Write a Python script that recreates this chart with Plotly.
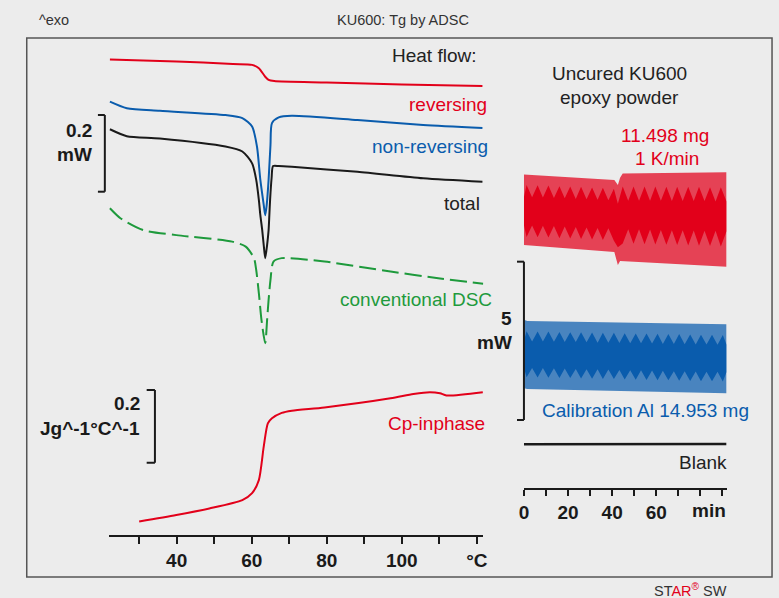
import plotly.graph_objects as go

W, H = 779, 598
FONT = "Liberation Sans, Arial, sans-serif"
RED = "#e2001a"
BLUE = "#0a5cad"
GREEN = "#1e9a3c"
BLACK = "#1a1a1a"
BG = "#ececec"

# ---------------- data: left panel (temperature, degC) ----------------
rev_T = [22.2, 40.0, 55.0, 60.1, 61.9, 63.6, 64.5, 66.0, 80.0, 100.0, 121.5]
rev_hf = [1.240, 1.235, 1.228, 1.226, 1.217, 1.195, 1.187, 1.184, 1.180, 1.175, 1.171]

nrev_T = [22.2, 26.7, 35.5, 53.0, 57.5, 60.1, 61.4, 62.3, 63.2, 63.6, 64.0, 64.5, 65.0, 65.4, 67.2, 70.7, 88.2, 105.7, 121.5]
nrev_hf = [1.130, 1.113, 1.106, 1.095, 1.087, 1.065, 1.013, 0.926, 0.861, 0.834, 0.861, 0.926, 1.017, 1.074, 1.089, 1.093, 1.082, 1.069, 1.061]

tot_T = [22.2, 26.7, 35.5, 53.0, 57.5, 60.1, 61.2, 61.9, 62.3, 62.8, 63.2, 63.6, 64.1, 64.5, 64.7, 64.9, 65.3, 65.7, 67.2, 70.7, 88.2, 105.7, 121.5]
tot_hf = [1.058, 1.040, 1.034, 1.013, 1.000, 0.969, 0.926, 0.874, 0.834, 0.795, 0.756, 0.722, 0.756, 0.795, 0.834, 0.874, 0.931, 0.962, 0.962, 0.960, 0.947, 0.930, 0.921]

dsc_T = [22.2, 25.0, 31.1, 39.9, 54.8, 58.4, 60.6, 61.2, 61.9, 62.6, 63.6, 64.1, 64.5, 65.0, 65.8, 68.0, 79.4, 97.0, 110.2, 121.7]
dsc_hf = [0.852, 0.826, 0.795, 0.782, 0.765, 0.752, 0.722, 0.691, 0.631, 0.561, 0.500, 0.561, 0.613, 0.665, 0.713, 0.722, 0.713, 0.687, 0.669, 0.655]

cp_T = [30.0, 39.9, 48.7, 57.5, 60.1, 61.9, 63.2, 64.3, 65.4, 68.0, 70.7, 79.4, 97.0, 103.1, 107.5, 110.2, 111.9, 121.6]
cp_val = [1.037, 1.055, 1.073, 1.096, 1.115, 1.151, 1.243, 1.307, 1.321, 1.336, 1.342, 1.351, 1.376, 1.388, 1.393, 1.390, 1.384, 1.393]

temp_ticks = [30, 40, 50, 60, 70, 80, 90, 100, 110, 120]
temp_labels = ["", "40", "", "60", "", "80", "", "100", "", "°C"]

# ---------------- data: right panel (time, min; heat flow, mW) ----------------
red_env_t = [0, 41.0, 42.6, 43.6, 44.8, 91.9]
red_env_top = [9.90, 9.73, 9.57, 9.80, 9.93, 9.97]
red_env_bot = [7.67, 7.45, 7.04, 7.17, 7.17, 6.99]

red_core_t = [0, 1.2, 3.7, 6.2, 8.6, 11.1, 13.6, 16.1, 18.5, 21.0, 23.5, 25.9, 28.4, 30.9, 33.4, 35.8, 38.3, 40.8, 42.6,
              44.8, 47.3, 49.7, 52.2, 54.7, 57.2, 59.6, 62.1, 64.6, 67.1, 69.5, 72.0, 74.5, 77.0, 79.4, 81.9, 84.4, 86.9, 89.3, 91.9]
red_core_top = [9.19, 9.57, 9.18, 9.56, 9.17, 9.55, 9.16, 9.53, 9.15, 9.52, 9.13, 9.51, 9.12, 9.49, 9.10, 9.48, 9.09, 9.45, 8.98,
                9.52, 9.07, 9.52, 9.07, 9.52, 9.07, 9.52, 9.07, 9.51, 9.06, 9.51, 9.06, 9.51, 9.06, 9.51, 9.06, 9.50, 9.05, 9.50, 9.05]
red_core_bot = [8.30, 7.93, 8.29, 7.92, 8.28, 7.91, 8.27, 7.89, 8.26, 7.88, 8.24, 7.86, 8.23, 7.85, 8.21, 7.83, 8.20, 7.81, 7.60,
                7.72, 8.17, 7.71, 8.17, 7.70, 8.16, 7.69, 8.15, 7.68, 8.14, 7.67, 8.14, 7.66, 8.13, 7.65, 8.12, 7.64, 8.12, 7.63, 8.11]

blue_env_t = [0, 1.5, 91.9]
blue_env_top = [5.31, 5.27, 5.17]
blue_env_bot = [3.15, 3.13, 2.99]

blue_core_t = [0, 1.2, 3.7, 6.2, 8.6, 11.1, 13.6, 16.1, 18.5, 21.0, 23.5, 25.9, 28.4, 30.9, 33.4, 35.8, 38.3, 40.8, 43.3,
               45.7, 48.2, 50.7, 53.1, 55.6, 58.1, 60.6, 63.0, 65.5, 68.0, 70.4, 72.9, 75.4, 77.9, 80.3, 82.8, 85.3, 87.8, 90.2, 91.9]
blue_core_top = [4.64, 4.95, 4.63, 4.94, 4.63, 4.94, 4.62, 4.93, 4.61, 4.92, 4.61, 4.92, 4.60, 4.91, 4.59, 4.90, 4.59, 4.90, 4.58,
                 4.89, 4.57, 4.88, 4.57, 4.88, 4.56, 4.87, 4.55, 4.86, 4.55, 4.86, 4.54, 4.85, 4.53, 4.84, 4.53, 4.84, 4.52, 4.83, 4.52]
blue_core_bot = [3.80, 3.50, 3.79, 3.49, 3.79, 3.48, 3.78, 3.47, 3.77, 3.47, 3.76, 3.46, 3.75, 3.45, 3.75, 3.44, 3.74, 3.44, 3.73,
                 3.43, 3.72, 3.42, 3.72, 3.41, 3.71, 3.40, 3.70, 3.40, 3.69, 3.39, 3.69, 3.38, 3.68, 3.37, 3.67, 3.37, 3.67, 3.36, 3.66]

blank_t = [0, 30, 60, 91.9]
blank_hf = [1.38, 1.38, 1.39, 1.39]

time_ticks = [0, 10, 20, 30, 40, 50, 60, 70, 80, 90]
time_labels = ["0", "", "20", "", "40", "", "60", "", "", ""]


def px(x):
    return x / W


def py(y):
    return 1 - y / H


def band(t, top, bot):
    return list(t) + list(t)[::-1], list(top) + list(bot)[::-1]


fig = go.Figure()

common = dict(mode="lines", hoverinfo="skip", showlegend=False)


def smooth(color, width=2, dash="solid"):
    return dict(color=color, width=width, dash=dash, shape="spline", smoothing=0.7)


fig.add_trace(go.Scatter(x=rev_T, y=rev_hf, line=smooth(RED), xaxis="x", yaxis="y", **common))
fig.add_trace(go.Scatter(x=nrev_T, y=nrev_hf, line=smooth(BLUE), xaxis="x", yaxis="y", **common))
fig.add_trace(go.Scatter(x=tot_T, y=tot_hf, line=smooth(BLACK), xaxis="x", yaxis="y", **common))
fig.add_trace(go.Scatter(x=dsc_T, y=dsc_hf, line=smooth(GREEN, 2, "17px,6px"), xaxis="x", yaxis="y", **common))
fig.add_trace(go.Scatter(x=cp_T, y=cp_val, line=smooth(RED), xaxis="x", yaxis="y2", **common))

bx, by = band(red_env_t, red_env_top, red_env_bot)
fig.add_trace(go.Scatter(x=bx, y=by, fill="toself", fillcolor="rgba(226,0,26,0.72)", line=dict(width=0),
                         xaxis="x2", yaxis="y3", **common))
bx, by = band(red_core_t, red_core_top, red_core_bot)
fig.add_trace(go.Scatter(x=bx, y=by, fill="toself", fillcolor=RED, line=dict(width=0),
                         xaxis="x2", yaxis="y3", **common))
bx, by = band(blue_env_t, blue_env_top, blue_env_bot)
fig.add_trace(go.Scatter(x=bx, y=by, fill="toself", fillcolor="rgba(10,92,173,0.72)", line=dict(width=0),
                         xaxis="x2", yaxis="y3", **common))
bx, by = band(blue_core_t, blue_core_top, blue_core_bot)
fig.add_trace(go.Scatter(x=bx, y=by, fill="toself", fillcolor=BLUE, line=dict(width=0),
                         xaxis="x2", yaxis="y3", **common))
fig.add_trace(go.Scatter(x=blank_t, y=blank_hf, line=dict(color=BLACK, width=2.5), xaxis="x2", yaxis="y3", **common))

axis_font = dict(family=FONT, size=19, color=BLACK, weight="bold")
left_dom_y = [py(535), py(40)]
fig.update_layout(
    width=W, height=H, margin=dict(l=0, r=0, t=0, b=0),
    paper_bgcolor=BG, plot_bgcolor="rgba(0,0,0,0)",
    xaxis=dict(domain=[px(105), px(484)], range=[21.9, 121.76], anchor="y",
               showline=True, linecolor=BLACK, linewidth=2, ticks="outside", ticklen=7, tickwidth=2,
               tickcolor=BLACK, tickvals=temp_ticks, ticktext=temp_labels, tickfont=axis_font,
               showgrid=False, zeroline=False, fixedrange=True),
    yaxis=dict(domain=left_dom_y, range=[0, 1.2908], visible=False, fixedrange=True),
    yaxis2=dict(domain=left_dom_y, range=[1.0, 2.3617], overlaying="y", visible=False, fixedrange=True),
    xaxis2=dict(domain=[px(525), px(730)], range=[0, 91.9], anchor="y3",
                showline=True, linecolor=BLACK, linewidth=2, ticks="outside", ticklen=6, tickwidth=2,
                tickcolor=BLACK, tickvals=time_ticks, ticktext=time_labels, tickfont=axis_font,
                showgrid=False, zeroline=False, fixedrange=True),
    yaxis3=dict(domain=[py(488), py(160)], range=[0, 10.358], anchor="x2", visible=False, fixedrange=True),
)

# frame
shapes = [dict(type="rect", xref="paper", yref="paper", x0=px(22), x1=px(776), y0=py(577), y1=py(38),
               line=dict(color="#555555", width=1.5))]


def bracket(xref, yref, x_line, x_tick, y0, y1):
    ln = dict(color=BLACK, width=2)
    return [
        dict(type="line", xref=xref, yref=yref, x0=x_line, x1=x_line, y0=y0, y1=y1, line=ln),
        dict(type="line", xref=xref, yref=yref, x0=x_tick, x1=x_line, y0=y0, y1=y0, line=ln),
        dict(type="line", xref=xref, yref=yref, x0=x_tick, x1=x_line, y0=y1, y1=y1, line=ln),
    ]


# scale bars: 0.2 mW, 0.2 J/(g K), 5 mW
shapes += bracket("x domain", "y", -4 / 379, -11 / 379, 0.8952, 0.8952 + 0.2)
shapes += bracket("x", "y2", 34.2, 32.0, 1.199, 1.199 + 0.2)
shapes += bracket("x2 domain", "y3", 0.0, -7 / 205, 2.147, 2.147 + 5)
fig.update_layout(shapes=shapes)

anns = []


def ann(text, x, y, anchor="right", color=BLACK, size=19, bold=False):
    anns.append(dict(text=text, x=px(x), y=py(y), xref="paper", yref="paper", xanchor=anchor, yanchor="middle",
                     showarrow=False, font=dict(family=FONT, size=size, color=color, weight="bold" if bold else "normal")))


ann("^exo", 32, 20, "left", "#333333", 14.5)
ann("KU600: Tg by ADSC", 403, 20, "center", "#333333", 14.5)
ann("ST<span style='color:#e2001a'>AR<sup>®</sup></span> SW", 655, 590, "left", "#333333", 14.5)

ann("Heat flow:", 479, 55, "right", "#222222")
ann("reversing", 490, 104, "right", RED)
ann("non-reversing", 491, 147, "right", BLUE)
ann("total", 483, 203, "right", "#222222")
ann("conventional DSC", 495, 299, "right", GREEN)
ann("Cp-inphase", 488, 423, "right", RED)

ann("0.2", 90, 131, "right", BLACK, 19, True)
ann("mW", 90, 155, "right", BLACK, 19, True)
ann("0.2", 139, 403, "right", BLACK, 19, True)
ann("Jg^-1°C^-1", 139, 428, "right", BLACK, 19, True)
ann("5", 515, 318, "right", BLACK, 19, True)
ann("mW", 515, 343, "right", BLACK, 19, True)

ann("Uncured KU600", 622, 73, "center", "#222222")
ann("epoxy powder", 622, 97, "center", "#222222")
ann("11.498 mg", 668, 136, "center", RED)
ann("1 K/min", 670, 159, "center", RED)
ann("Calibration Al 14.953 mg", 648, 410, "center", BLUE)
ann("Blank", 732, 462, "right", "#222222")
ann("min", 731, 510, "right", BLACK, 19, True)

fig.update_layout(annotations=anns)
fig.write_html("out.html")
